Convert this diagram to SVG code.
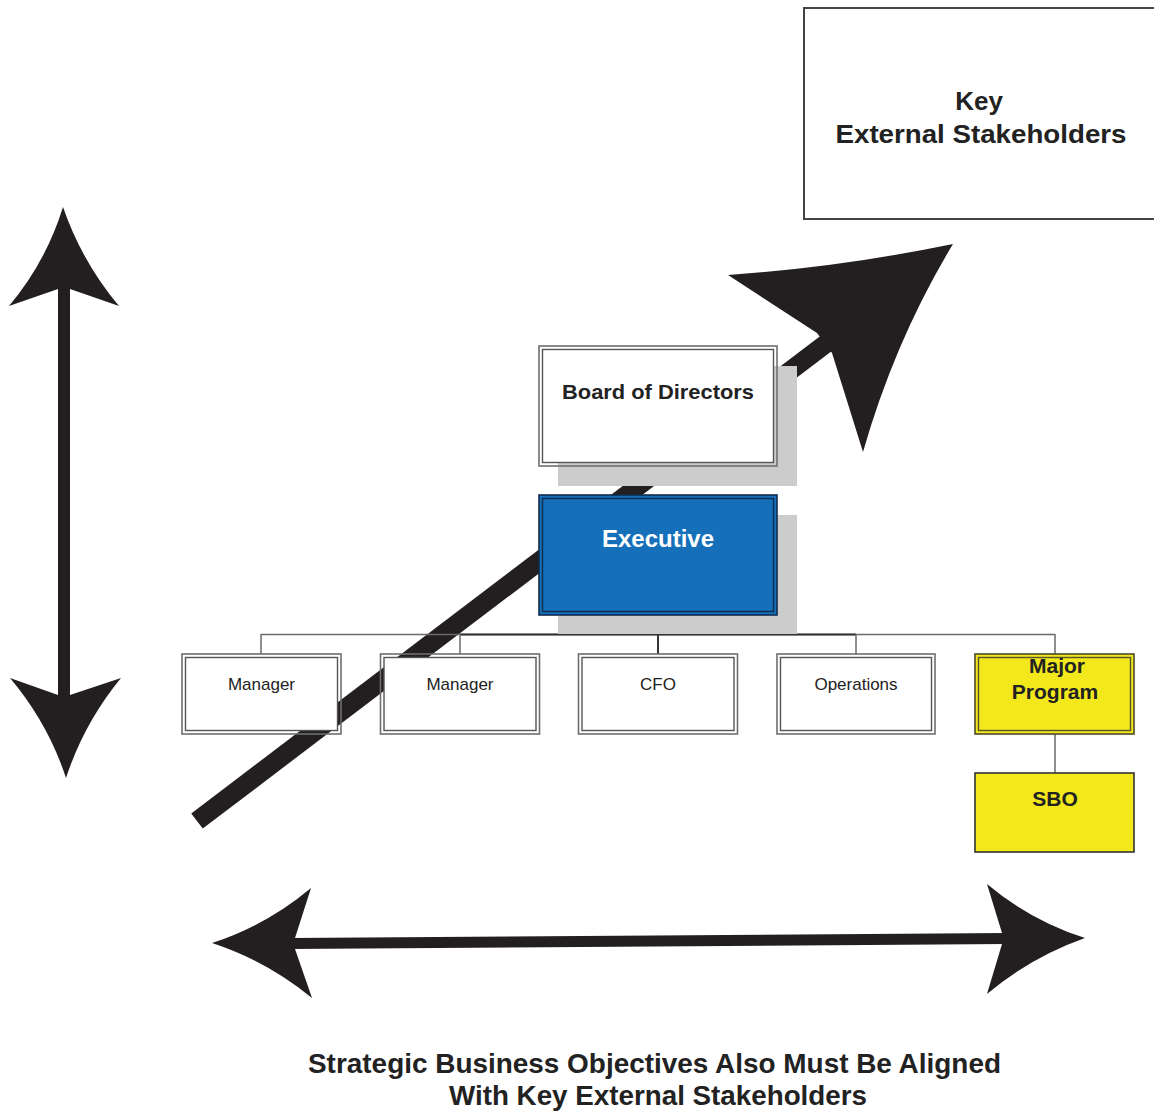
<svg xmlns="http://www.w3.org/2000/svg" width="1154" height="1111" viewBox="0 0 1154 1111">
  <defs>
    <style>
      text { font-family: "Liberation Sans", Arial, sans-serif; fill: #222; text-anchor: middle; }
      .bold { font-weight: bold; }
      .small { font-size: 17px; }
      .ink { fill: #231f20; }
      .shaft { stroke: #231f20; fill: none; stroke-linecap: butt; }
      .shadow { fill: #cccccc; }
      .box-outer { fill: none; stroke: #6e6e6e; stroke-width: 1.6; }
      .box-inner { fill: #ffffff; stroke: #555555; stroke-width: 1.4; }
      .wire { stroke: #6a6a6a; stroke-width: 1.5; fill: none; }
      .wire-dark { stroke: #333333; stroke-width: 2; fill: none; }
    </style>
  </defs>

  <rect width="1154" height="1111" fill="#ffffff"/>

  <!-- Diagonal growth arrow (drawn first; the boxes sit on top of it) -->
  <g id="growth-arrow">
    <line class="shaft" x1="197" y1="821" x2="836" y2="336" stroke-width="19"/>
    <path class="ink" d="M953,244 Q842,267 728,275 L817,333 L832,353 L863,452 Q895,340 953,244 Z"/>
  </g>

  <!-- Vertical double arrow -->
  <g id="vertical-arrow">
    <line class="shaft" x1="64" y1="285" x2="64" y2="700" stroke-width="12"/>
    <path class="ink" d="M63,207 Q46,262 9,306 L58,289 L70,289 L119,306 Q82,262 63,207 Z"/>
    <path class="ink" d="M66,778 Q48,723 10,678 L58,695 L70,695 L121,678 Q84,723 66,778 Z"/>
  </g>

  <!-- Horizontal double arrow -->
  <g id="horizontal-arrow">
    <line class="shaft" x1="290" y1="943.5" x2="1007" y2="938.5" stroke-width="11"/>
    <path class="ink" d="M212,943 Q267,925 311,888 L295,938 L295,949 L312,998 Q267,961 212,943 Z"/>
    <path class="ink" d="M1085,938 Q1031,921 987,884 L1002,933 L1002,944 L987,994 Q1031,957 1085,938 Z"/>
  </g>

  <!-- Key external stakeholders -->
  <g id="stakeholders">
    <rect x="804" y="8" width="360" height="211" fill="#ffffff" stroke="#444" stroke-width="2"/>
    <text class="bold" x="979" y="110" font-size="26">Key</text>
    <text class="bold" x="981" y="143" font-size="26" textLength="291" lengthAdjust="spacingAndGlyphs">External Stakeholders</text>
  </g>

  <!-- Org chart connectors -->
  <g id="connectors">
    <line class="wire" x1="261" y1="634.5" x2="1055" y2="634.5"/>
    <line class="wire-dark" x1="460" y1="634.5" x2="856" y2="634.5"/>
    <line class="wire-dark" x1="658" y1="614" x2="658" y2="634"/>
    <line class="wire" x1="261" y1="634" x2="261" y2="654"/>
    <line class="wire" x1="460" y1="634" x2="460" y2="654"/>
    <line class="wire-dark" x1="658" y1="634" x2="658" y2="654"/>
    <line class="wire" x1="856" y1="634" x2="856" y2="654"/>
    <line class="wire" x1="1055" y1="634" x2="1055" y2="654"/>
    <line class="wire" x1="1055" y1="734" x2="1055" y2="773"/>
  </g>

  <!-- Board of Directors -->
  <g id="board">
    <rect class="shadow" x="558" y="366" width="239" height="120"/>
    <rect class="box-outer" x="539" y="346" width="238" height="120" fill="#ffffff"/>
    <rect class="box-inner" x="542.5" y="349.5" width="231" height="113"/>
    <text class="bold" x="658" y="399" font-size="21" textLength="192" lengthAdjust="spacingAndGlyphs">Board of Directors</text>
  </g>

  <!-- Executive -->
  <g id="executive">
    <rect class="shadow" x="558" y="515" width="239" height="119"/>
    <rect x="539" y="495" width="238" height="120" fill="#1570b9" stroke="#0e2c4e" stroke-width="1.6"/>
    <rect x="542.5" y="498.5" width="231" height="113" fill="#1570b9" stroke="#0e2c4e" stroke-width="1.4"/>
    <text class="bold" x="658" y="547" font-size="24" style="fill:#ffffff">Executive</text>
  </g>

  <!-- Direct reports -->
  <g id="manager-1">
    <rect class="box-outer" x="182" y="654" width="159" height="80" fill="#ffffff"/>
    <rect class="box-inner" x="185.5" y="657.5" width="152" height="73"/>
    <text class="small" x="261.5" y="690">Manager</text>
  </g>
  <g id="manager-2">
    <rect class="box-outer" x="380.5" y="654" width="159" height="80" fill="#ffffff"/>
    <rect class="box-inner" x="384" y="657.5" width="152" height="73"/>
    <text class="small" x="460" y="690">Manager</text>
  </g>
  <g id="cfo">
    <rect class="box-outer" x="578.5" y="654" width="159" height="80" fill="#ffffff"/>
    <rect class="box-inner" x="582" y="657.5" width="152" height="73"/>
    <text class="small" x="658" y="690">CFO</text>
  </g>
  <g id="operations">
    <rect class="box-outer" x="777" y="654" width="158" height="80" fill="#ffffff"/>
    <rect class="box-inner" x="780.5" y="657.5" width="151" height="73"/>
    <text class="small" x="856" y="690">Operations</text>
  </g>
  <g id="major-program">
    <rect x="975" y="654" width="159" height="80" fill="#f2e81c" stroke="#4a4a2a" stroke-width="1.6"/>
    <rect x="978.5" y="657.5" width="152" height="73" fill="#f2e81c" stroke="#55552a" stroke-width="1.4"/>
    <text class="bold" x="1057" y="673" font-size="21">Major</text>
    <text class="bold" x="1055" y="699" font-size="21">Program</text>
  </g>

  <!-- Strategic business objective -->
  <g id="sbo">
    <rect x="975" y="773" width="159" height="79" fill="#f2e81c" stroke="#333" stroke-width="1.6"/>
    <text class="bold" x="1055" y="806" font-size="21">SBO</text>
  </g>

  <!-- Caption -->
  <g id="caption">
    <text class="bold" x="654.5" y="1073" font-size="27" textLength="693" lengthAdjust="spacingAndGlyphs">Strategic Business Objectives Also Must Be Aligned</text>
    <text class="bold" x="658" y="1105" font-size="27" textLength="418" lengthAdjust="spacingAndGlyphs">With Key External Stakeholders</text>
  </g>
</svg>
